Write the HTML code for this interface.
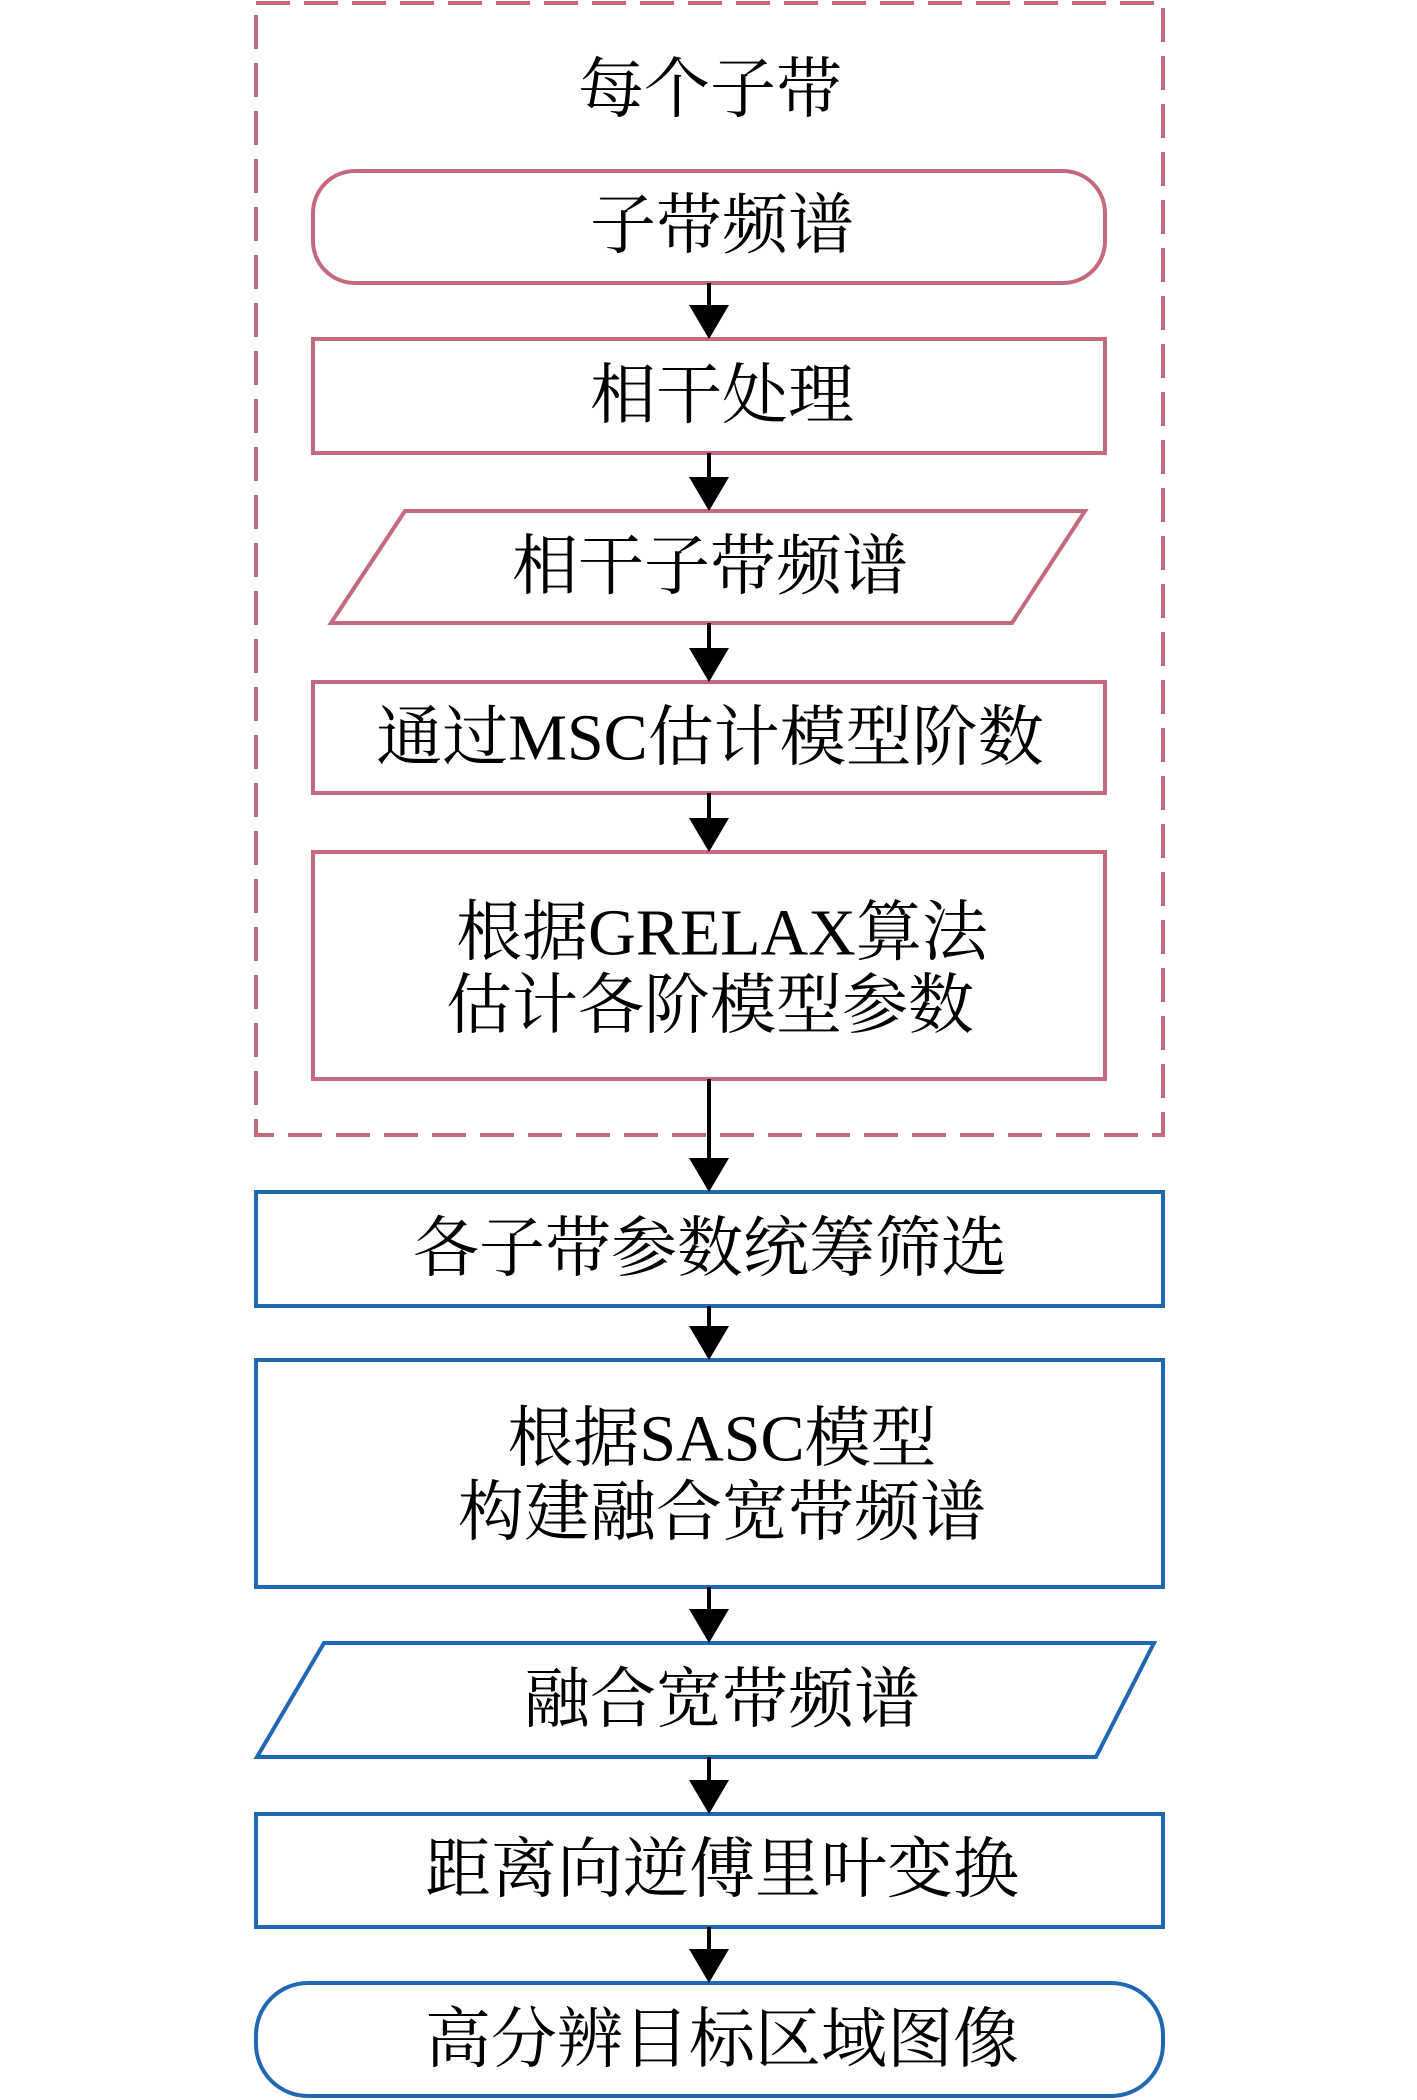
<!DOCTYPE html>
<html><head><meta charset="utf-8"><style>
html,body{margin:0;padding:0;background:#fff;}
svg{display:block;}
text{font-family:"Liberation Serif","Noto Serif CJK SC",serif;font-size:66px;fill:#000;text-anchor:middle;dominant-baseline:central;}
</style></head><body>
<svg width="1417" height="2100" viewBox="0 0 1417 2100" xmlns="http://www.w3.org/2000/svg">
<g fill="none" stroke="#c56a7c" stroke-width="4">
<rect x="256" y="3" width="907" height="1132" stroke-dasharray="34,14"/>
<rect x="313" y="171" width="792" height="112" rx="42"/>
<rect x="313" y="339" width="792" height="114"/>
<polygon points="405,511 1085,511 1012,623 331,623"/>
<rect x="313" y="682" width="792" height="111"/>
<rect x="313" y="852" width="792" height="227"/>
</g>
<g fill="none" stroke="#1f68b3" stroke-width="4">
<rect x="256" y="1192" width="907" height="114"/>
<rect x="256" y="1360" width="907" height="227"/>
<polygon points="324,1643 1154,1643 1096,1757 257,1757"/>
<rect x="256" y="1814" width="907" height="113"/>
<rect x="256" y="1983" width="907" height="113" rx="52"/>
</g>
<g stroke="#000" stroke-width="4" fill="#000">
<line x1="709" y1="283" x2="709" y2="310"/><path d="M689,305 L729,305 L709,339 z" stroke="none"/>
<line x1="709" y1="453" x2="709" y2="480"/><path d="M689,477 L729,477 L709,511 z" stroke="none"/>
<line x1="709" y1="623" x2="709" y2="650"/><path d="M689,648 L729,648 L709,682 z" stroke="none"/>
<line x1="709" y1="793" x2="709" y2="820"/><path d="M689,818 L729,818 L709,852 z" stroke="none"/>
<line x1="709" y1="1079" x2="709" y2="1160"/><path d="M689,1158 L729,1158 L709,1192 z" stroke="none"/>
<line x1="709" y1="1306" x2="709" y2="1330"/><path d="M689,1326 L729,1326 L709,1360 z" stroke="none"/>
<line x1="709" y1="1587" x2="709" y2="1612"/><path d="M689,1609 L729,1609 L709,1643 z" stroke="none"/>
<line x1="709" y1="1757" x2="709" y2="1782"/><path d="M689,1780 L729,1780 L709,1814 z" stroke="none"/>
<line x1="709" y1="1927" x2="709" y2="1952"/><path d="M689,1949 L729,1949 L709,1983 z" stroke="none"/>
</g>
<text x="710" y="90">每个子带</text>
<text x="722" y="226">子带频谱</text>
<text x="722" y="396">相干处理</text>
<text x="710" y="567">相干子带频谱</text>
<text x="710" y="738">通过MSC估计模型阶数</text>
<text x="722" y="933">根据GRELAX算法</text>
<text x="710" y="1006">估计各阶模型参数</text>
<text x="710" y="1249">各子带参数统筹筛选</text>
<text x="722" y="1439">根据SASC模型</text>
<text x="722" y="1513">构建融合宽带频谱</text>
<text x="722" y="1700">融合宽带频谱</text>
<text x="722" y="1870">距离向逆傅里叶变换</text>
<text x="722" y="2040">高分辨目标区域图像</text>
</svg>
</body></html>
